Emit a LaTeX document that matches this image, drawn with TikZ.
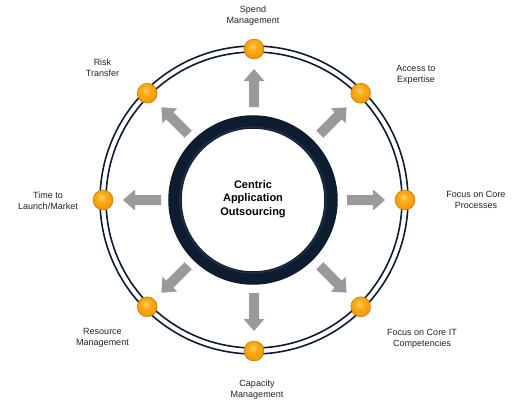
\documentclass[tikz,border=0pt]{standalone}
\usepackage{fontspec}
\setmainfont{Liberation Sans}
\usetikzlibrary{calc}
\definecolor{navy}{RGB}{14,28,48}
\definecolor{navylight}{RGB}{40,58,86}
\definecolor{arrowgray}{RGB}{154,154,154}
\definecolor{balledge}{RGB}{185,105,0}
\definecolor{txt}{RGB}{34,34,34}
\pgfdeclareradialshading{orbshade}{\pgfpoint{-4bp}{8bp}}{%
  color(0bp)=(rgb,255:red,255;green,215;blue,110);
  color(10bp)=(rgb,255:red,252;green,175;blue,25);
  color(28bp)=(rgb,255:red,242;green,150;blue,0);
  color(45bp)=(rgb,255:red,215;green,120;blue,0);
  color(60bp)=(rgb,255:red,190;green,100;blue,0)}
\begin{document}
\begin{tikzpicture}[x=1pt,y=-1pt,
  lbl/.style={font=\fontsize{9}{10.7}\selectfont, text=txt, align=center, inner sep=0pt},
  ctr/.style={font=\fontsize{11}{13.5}\selectfont\bfseries, text=black, align=center, inner sep=0pt},
  orb/.style={circle, minimum size=20pt, inner sep=0pt, shading=orbshade, draw=balledge, line width=0.4pt},
  ringline/.style={draw=navy, line width=1.6pt},
  blockarrow/.style={fill=arrowgray}
]
\useasboundingbox (0,0) rectangle (520,407);
\fill[white] (0,0) rectangle (520,407);
\coordinate (C) at (254,200);
% double ring
\draw[ringline] (C) circle[radius=148];
\draw[ringline] (C) circle[radius=154];
% inner ring
\draw[navy, line width=13.5pt] (253,200) circle[radius=78];
\draw[navylight, line width=1.5pt, opacity=0.6] (253,200) circle[radius=73];
\node[ctr] (center) at (253,199) {Centric\\Application\\Outsourcing};
% arrows
\foreach \a in {0,45,90,135,180,225,270,315} {
  \fill[blockarrow, shift={(C)}, rotate=\a] (93,-5) -- (119,-5) -- (119,-10.5) -- (131,0) -- (119,10.5) -- (119,5) -- (93,5) -- cycle;
}
% balls
\foreach \a in {0,45,90,135,180,225,270,315} {
  \node[orb] (b\a) at ($(C)+(\a:151)$) {};
}
% labels
\node[lbl] (l1) at (253,16) {Spend\\Management};
\node[lbl] (l2) at (416,74.5) {Access to\\Expertise};
\node[lbl] (l3) at (476,200) {Focus on Core\\Processes};
\node[lbl] (l4) at (422,339) {Focus on Core IT\\Competencies};
\node[lbl] (l5) at (257,390) {Capacity\\Management};
\node[lbl] (l6) at (102.5,338) {Resource\\Management};
\node[lbl] (l7) at (48,200.5) {Time to\\Launch/Market};
\node[lbl] (l8) at (102.5,68) {Risk\\Transfer};
\end{tikzpicture}
\end{document}
